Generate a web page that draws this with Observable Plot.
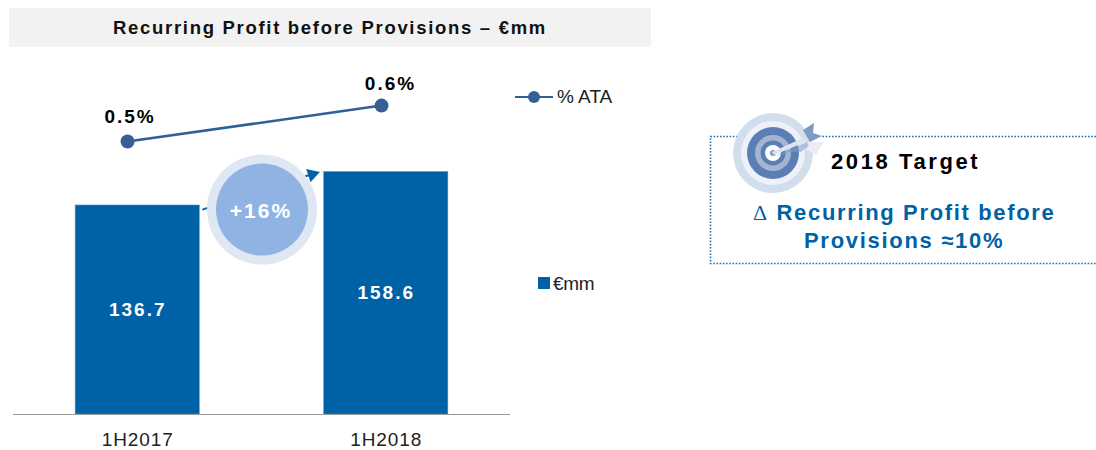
<!DOCTYPE html>
<html><head><meta charset="utf-8">
<script src="https://cdn.jsdelivr.net/npm/d3@7"></script>
<script src="https://cdn.jsdelivr.net/npm/@observablehq/plot@0.6"></script>
<style>
html,body{margin:0;padding:0;background:#fff;font-family:"Liberation Sans",Arial,sans-serif;}
#page{position:relative;width:1096px;height:450px;overflow:hidden;}
#title{position:absolute;left:9px;top:8px;width:642px;height:39px;line-height:39px;background:#F2F2F2;text-align:center;font-weight:bold;font-size:18.5px;letter-spacing:1.7px;color:#111;}
#chart{position:absolute;left:0;top:47px;}
.v{letter-spacing:2px;}
.c text{letter-spacing:.9px;}
.leg{position:absolute;font-size:19px;color:#222;white-space:nowrap;}
.t{position:absolute;white-space:nowrap;font-weight:bold;font-size:22px;}
svg.abs{position:absolute;}
</style></head><body>
<div id="page">
<div id="title">Recurring Profit before Provisions – €mm</div>
<div id="chart"></div>
<svg class="abs" style="left:510px;top:85px" width="50" height="24"><line x1="5" y1="12" x2="43" y2="12" stroke="#2F5F97" stroke-width="2"/><circle cx="24" cy="12" r="6" fill="#355F95"/></svg>
<div class="leg" style="left:557px;top:86px">% ATA</div>
<svg class="abs" style="left:538px;top:277px" width="12" height="12"><rect width="12" height="12" fill="#0062A6"/></svg>
<div class="leg" style="left:553px;top:273px;letter-spacing:-.3px">€mm</div>
<svg class="abs" style="left:705px;top:130px" width="391" height="140"><path d="M391 6.5H5.5V133.5H391" fill="none" stroke="#1F72B0" stroke-width="1.6" stroke-dasharray="1.6 1.6"/></svg>
<svg class="abs" style="left:725px;top:105px" width="105" height="95">
<rect x="12" y="27" width="85" height="9" fill="#fff"/>
<circle cx="48" cy="48" r="40" fill="#D3DEEC"/>
<circle cx="48" cy="48" r="32" fill="#EEF2F8"/>
<circle cx="48" cy="48" r="26" fill="#5B7FB5"/>
<circle cx="48" cy="48" r="18" fill="#A3B5D2"/>
<circle cx="48" cy="48" r="12.5" fill="#5B7FB5"/>
<circle cx="48" cy="48" r="8" fill="#fff"/>
<circle cx="48" cy="48" r="3" fill="#7C9AC6"/>
<polygon points="72,38 86,37 99,37 91,50 82,45" fill="#E9EEF6"/>
<polygon points="50,51 82,37 84,41 76,47 66,47" fill="#7F9CC6" opacity=".55"/>
<polygon points="47,47 78,33 81,37 49,50" fill="#DCE4F0"/>
<polygon points="78,25 89,18 88,28 97,31 85,37" fill="#7B9BC5"/>
</svg>
<div class="t" style="left:831px;top:149px;color:#000;letter-spacing:2.6px">2018 Target</div>
<div class="t" style="left:753px;top:200px;color:#0062A6;letter-spacing:1.65px"><span style="font-weight:normal;font-family:'Liberation Serif',serif">Δ</span> Recurring Profit before</div>
<div class="t" style="left:804px;top:228px;color:#0062A6;letter-spacing:1.7px">Provisions ≈10%</div>
</div>
<script>
const categories = ["1H2017", "1H2018"];
const euroValues = [136.7, 158.6];
const ataValues = [0.5, 0.6];
const ataLabels = ["0.5%", "0.6%"];
const growthLabel = ["+16%"];

const idx = categories.map((_, i) => i);
// secondary (% ATA) axis mapped into the primary y space
const ataY = d3.scaleLinear().domain([0.5, 0.6]).range([178.5, 202]);
const ataX = d3.scaleLinear().domain([0, 1]).range([-0.041, 0.981]);
const labelX = d3.scaleLinear().domain([0, 1]).range([-0.031, 1.017]);
const labelY = d3.scaleLinear().domain([0.5, 0.6]).range([194.9, 216.4]);
const blue = "#0062A6";
const growthX = 0.5, growthY = 134;

const plot = Plot.plot({
  width: 1096, height: 403,
  marginTop: 0, marginBottom: 36, marginLeft: 0, marginRight: 0,
  style: {fontFamily: '"Liberation Sans",Arial,sans-serif', background: "transparent", overflow: "visible"},
  x: {type: "linear", domain: [-0.5, 1.5], range: [13, 510]},
  y: {domain: [0, 240], axis: null},
  marks: [
    Plot.axisX({ticks: idx, tickFormat: i => categories[i], tickSize: 0, tickPadding: 18, fontSize: 19, label: null, className: "c", color: "#222"}),
    Plot.rectY(idx, {x1: i => i - 0.25, x2: i => i + 0.25, y1: 0, y2: i => euroValues[i], fill: blue, stroke: "#5F9BC9", strokeWidth: 0.5}),
    Plot.ruleY([0], {x1: -0.5, x2: 1.5, stroke: "#999", strokeWidth: 1}),
    Plot.text(idx, {x: i => i, y: i => euroValues[i] / 2, text: i => euroValues[i].toFixed(1), fill: "#fff", fontWeight: "bold", fontSize: 19, className: "v"}),
    Plot.link([0], {x1: 0.26, y1: growthY, x2: 0.71, y2: 157.6, stroke: blue, strokeWidth: 2}),
    Plot.dot([0], {x: 0.702, y: 157, r: 5.2, symbol: "triangle", fill: blue, rotate: 72}),
    Plot.dot([0], {x: growthX, y: growthY, r: 55, fill: "#DFE7F3"}),
    Plot.dot([0], {x: growthX, y: growthY, r: 46, fill: "#8FB3E2"}),
    Plot.text(growthLabel, {x: growthX, y: growthY, dy: 2, dx: -1, text: d => d, fill: "#fff", fontWeight: "bold", fontSize: 21, className: "v"}),
    Plot.line(idx, {x: i => ataX(i), y: i => ataY(ataValues[i]), stroke: "#2F5F97", strokeWidth: 2.5}),
    Plot.dot(idx, {x: i => ataX(i), y: i => ataY(ataValues[i]), r: 7, fill: "#355F95"}),
    Plot.text(idx, {x: i => labelX(i), y: i => labelY(ataValues[i]), text: i => ataLabels[i], fill: "#000", fontWeight: "bold", fontSize: 19, className: "v"})
  ]
});
document.getElementById("chart").appendChild(plot);
</script>
</body></html>
